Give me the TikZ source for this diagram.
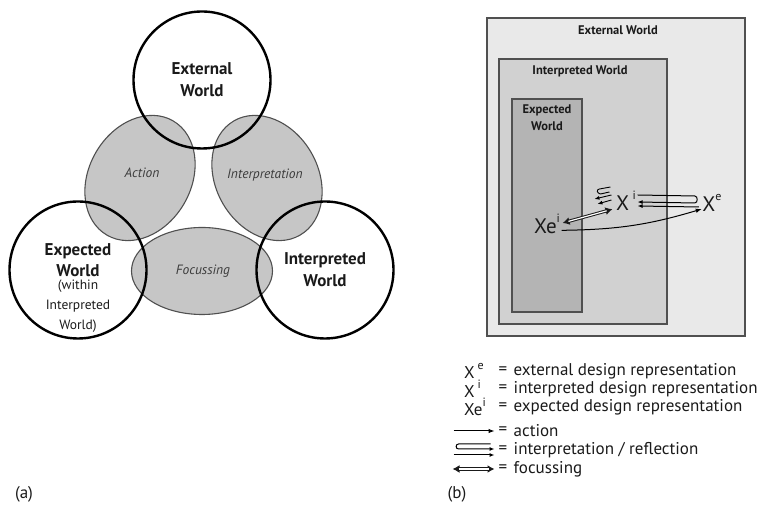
\documentclass[tikz,border=0pt]{standalone}
\usepackage{fontspec}
\setmainfont{PT Sans}
\usetikzlibrary{arrows.meta,positioning,shapes.geometric}
\usepackage{xcolor}
\definecolor{ink}{HTML}{1A1A1A}
\definecolor{rim}{HTML}{505050}
\definecolor{blobfill}{HTML}{C6C6C6}
\definecolor{outerfill}{HTML}{E9E9E9}
\definecolor{midfill}{HTML}{D1D1D1}
\definecolor{innerfill}{HTML}{B4B4B4}
\newcommand\repsup[1]{\raisebox{0.5em}{\fontsize{12}{12}\selectfont #1}}
\tikzset{
  >=Latex,
  every node/.style={text=ink},
  world/.style={circle,draw=black,line width=2.4pt,minimum size=137pt,inner sep=0pt,align=center,font=\fontsize{17}{22}\selectfont\bfseries},
  worldtext/.style={align=center,inner sep=0pt,font=\fontsize{17}{21}\selectfont\bfseries},
  worldnote/.style={align=center,inner sep=0pt,font=\fontsize{13.5}{20}\selectfont},
  blob/.style={ellipse,draw=rim,line width=1.1pt,fill=blobfill,inner sep=0pt},
  blobtext/.style={font=\fontsize{13.5}{15}\selectfont\itshape,text=ink!85},
  worldbox/.style={rectangle,draw=rim,line width=1.3pt,inner sep=0pt},
  boxtitle/.style={font=\fontsize{12.5}{17}\selectfont\bfseries,align=center,inner sep=0pt},
  rep/.style={font=\fontsize{21}{22}\selectfont,inner sep=1.5pt},
  leg/.style={font=\fontsize{17}{18}\selectfont,inner sep=0pt},
  tag/.style={font=\fontsize{17}{18}\selectfont,inner sep=0pt},
  act/.style={->,line width=1pt,>={Latex[length=6pt,width=4.5pt]}},
  interp/.style={line width=1pt,>={Latex[length=5pt,width=4pt]}},
  focusrim/.style={{Latex[length=7pt,width=8pt]}-{Latex[length=7pt,width=8pt]},line width=3.2pt,draw=ink},
  focuscore/.style={line width=1.2pt,draw=white,shorten <=6pt,shorten >=6pt},
}

\begin{document}
\begin{tikzpicture}[x=1pt,y=1pt]
\useasboundingbox (0,0) rectangle (769,516);

% (a) the three worlds
\node[blob,minimum width=132pt,minimum height=102pt,rotate=60] (actionblob) at (140,338) {};
\node[blob,minimum width=132pt,minimum height=102pt,rotate=-60] (interpblob) at (267,338) {};
\node[blob,minimum width=141pt,minimum height=87pt] (focusblob) at (202,245) {};

\node[world] (extworld) at (202,436) {External\\World};
\node[world] (expworld) at (78,246) {};
\node[world] (intworld) at (325,246) {Interpreted\\World};

\node[worldtext] (explabel) at (78,256) {Expected\\World};
\node[worldnote,below=3pt of explabel] (expnote) {(within\\Interpreted\\World)};

\node[blobtext] (actionlabel) at (142,343) {Action};
\node[blobtext] (interplabel) at (265,341) {Interpretation};
\node[blobtext] (focuslabel) at (203,245) {Focussing};

\node[tag] (taga) at (24,22) {(a)};

% (b) nested worlds
\node[worldbox,fill=outerfill,minimum width=258pt,minimum height=318pt] (extbox) at (616,339) {};
\node[worldbox,fill=midfill,minimum width=168pt,minimum height=265pt] (intbox) at (583,324.5) {};
\node[worldbox,fill=innerfill,minimum width=70pt,minimum height=213pt] (expbox) at (547,310.5) {};

\node[boxtitle,below=8pt of extbox.north,xshift=2pt] (exttitle) {External World};
\node[boxtitle,below=7pt of intbox.north,xshift=-3pt] (inttitle) {Interpreted World};
\node[boxtitle,below=6pt of expbox.north] (exptitle) {Expected\\World};

\node[rep] (xi) at (626,315) {X\,\repsup{i}};
\node[rep] (xe) at (712,313) {X\repsup{e}};
\node[rep] (xei) at (547,292) {Xe\repsup{i}};

\draw[focusrim] ([shift={(1pt,1pt)}]xei.east) -- ([shift={(-2pt,3pt)}]xi.south west);
\draw[focuscore] ([shift={(1pt,1pt)}]xei.east) -- ([shift={(-2pt,3pt)}]xi.south west);
\draw[act] ([shift={(0pt,5pt)}]xei.south east) to[bend right=8] ([shift={(1pt,4pt)}]xe.south west);
\draw[interp,->] ([yshift=6pt]xi.east) -- ([shift={(-6pt,7pt)}]xe.west)
  to[out=0,in=0,looseness=1.2] ([shift={(-6pt,0pt)}]xe.west) -- ([yshift=-1pt]xi.east);
\draw[interp,<-] ([yshift=-5pt]xi.east) -- ([shift={(-2pt,-4pt)}]xe.west);
% reflection loop
\draw[interp,line width=0.9pt] ([shift={(-4pt,14pt)}]xi.west) -- ([shift={(-15pt,12pt)}]xi.west)
  to[out=190,in=170,looseness=1.8] ([shift={(-14pt,7pt)}]xi.west) -- ([shift={(-5pt,9pt)}]xi.west);
\draw[interp,->,line width=0.9pt] ([shift={(-3pt,6pt)}]xi.west) -- ([shift={(-20pt,2pt)}]xi.west);
\draw[interp,->,line width=0.9pt] ([shift={(-3pt,1pt)}]xi.west) -- ([shift={(-17pt,-3pt)}]xi.west);

% legend
\node[leg] (eq1) at (503,145) {=};
\node[leg] (eq2) at (503,127) {=};
\node[leg] (eq3) at (503,109) {=};
\node[leg] (eq4) at (503,85) {=};
\node[leg] (eq5) at (503,66) {=};
\node[leg] (eq6) at (503,47) {=};

\node[leg,anchor=west] (k1) at (464,145) {X\,\repsup{e}};
\node[leg,anchor=west] (k2) at (464,127) {X\,\repsup{i}};
\node[leg,anchor=west] (k3) at (464,109) {Xe\repsup{i}};

\node[leg,right=6pt of eq1] (t1) {external design representation};
\node[leg,right=6pt of eq2] (t2) {interpreted design representation};
\node[leg,right=6pt of eq3] (t3) {expected design representation};
\node[leg,right=6pt of eq4] (t4) {action};
\node[leg,right=6pt of eq5] (t5) {interpretation / reflection};
\node[leg,right=6pt of eq6] (t6) {focussing};

\draw[act] ([xshift=-45pt]eq4.west) -- ([xshift=-4pt]eq4.west);
\draw[interp,->] ([shift={(-8pt,6pt)}]eq5.west) -- ([shift={(-40pt,6pt)}]eq5.west)
  to[out=180,in=180,looseness=1.6] ([shift={(-40pt,1pt)}]eq5.west) -- ([shift={(-4pt,1pt)}]eq5.west);
\draw[interp,->] ([shift={(-45pt,-5pt)}]eq5.west) -- ([shift={(-4pt,-5pt)}]eq5.west);
\draw[focusrim] ([xshift=-46pt]eq6.west) -- ([xshift=-4pt]eq6.west);
\draw[focuscore] ([xshift=-46pt]eq6.west) -- ([xshift=-4pt]eq6.west);

\node[tag] (tagb) at (457,22) {(b)};

\end{tikzpicture}
\end{document}
